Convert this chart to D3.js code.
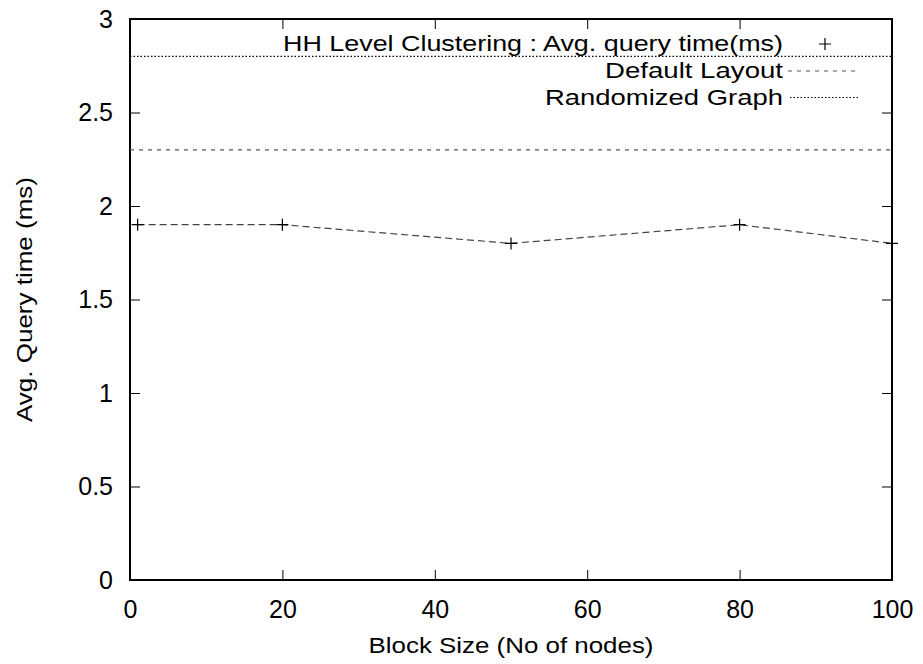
<!DOCTYPE html>
<html>
<head>
<meta charset="utf-8">
<script src="https://cdn.jsdelivr.net/npm/d3@7"></script>
<style>
    body { margin: 0; background: #fff; }
    text { font-family: "Liberation Sans", Arial, sans-serif; fill: #000; }
</style>
</head>
<body>
<div id="chart"></div>
<script>
// data
const blockSizes = [1, 20, 50, 80, 100];
const hhQueryTime = [1.9, 1.9, 1.8, 1.9, 1.8];
const defaultLayout = 2.3;
const randomizedGraph = 2.8;
const xTicks = [0, 20, 40, 60, 80, 100];
const yTicks = [0, 0.5, 1, 1.5, 2, 2.5, 3];
const legendLabels = ['HH Level Clustering : Avg. query time(ms)', 'Default Layout', 'Randomized Graph'];

const width = 923,
    height = 664,
    margins = { left: 130, top: 19, right: 31, bottom: 84 };

const svg = d3.select('#chart').append('svg')
    .attr('width', width)
    .attr('height', height);

const w = width - margins.left - margins.right,
    h = height - margins.top - margins.bottom;

const x = d3.scaleLinear().domain([0, 100]).range([margins.left, margins.left + w]);
const y = d3.scaleLinear().domain([0, 3]).range([margins.top + h, margins.top]);

const tickLen = 10,
    tickFont = 25,
    labelFont = 22;

// Axises (gnuplot style, ticks inward and mirrored)
const axisB = d3.axisBottom(x).tickValues(xTicks).tickSizeInner(-tickLen).tickSizeOuter(0).tickPadding(20);
const axisT = d3.axisTop(x).tickValues(xTicks).tickSizeInner(-tickLen).tickSizeOuter(0).tickFormat('');
const axisL = d3.axisLeft(y).tickValues(yTicks).tickSizeInner(-tickLen).tickSizeOuter(0).tickPadding(17).tickFormat(d3.format('~g'));
const axisR = d3.axisRight(y).tickValues(yTicks).tickSizeInner(-tickLen).tickSizeOuter(0).tickFormat('');

function styleAxis(g) {
    g.select('.domain').remove();
    g.selectAll('line').attr('stroke', '#000').attr('stroke-width', 1);
    g.selectAll('text')
        .attr('font-size', tickFont)
        .attr('font-family', '"Liberation Sans", Arial, sans-serif')
        .attr('fill', '#000');
}

svg.append('g').attr('transform', 'translate(0,' + (margins.top + h) + ')').call(axisB).call(styleAxis);
svg.append('g').attr('transform', 'translate(0,' + margins.top + ')').call(axisT).call(styleAxis);
svg.append('g').attr('transform', 'translate(' + margins.left + ',0)').call(axisL).call(styleAxis);
svg.append('g').attr('transform', 'translate(' + (margins.left + w) + ',0)').call(axisR).call(styleAxis);

// border
svg.append('rect')
    .attr('x', margins.left)
    .attr('y', margins.top)
    .attr('width', w)
    .attr('height', h)
    .attr('fill', 'none')
    .attr('stroke', '#000')
    .attr('stroke-width', 2);

// horizontal reference lines
svg.append('line')
    .attr('x1', x(0)).attr('x2', x(100))
    .attr('y1', y(defaultLayout)).attr('y2', y(defaultLayout))
    .attr('stroke', '#555').attr('stroke-width', 1.2)
    .attr('stroke-dasharray', '4,5');

svg.append('line')
    .attr('x1', x(0)).attr('x2', x(100))
    .attr('y1', y(randomizedGraph)).attr('y2', y(randomizedGraph))
    .attr('stroke', '#000').attr('stroke-width', 1.2)
    .attr('stroke-dasharray', '1.5,2');

// data line
const pts = blockSizes.map((d, i) => [d, hhQueryTime[i]]);
svg.append('path')
    .datum(pts)
    .attr('fill', 'none')
    .attr('stroke', '#444')
    .attr('stroke-width', 1.2)
    .attr('stroke-dasharray', '7,4')
    .attr('d', d3.line().x(d => x(d[0])).y(d => y(d[1])));

function plus(g, cx, cy) {
    g.append('path')
        .attr('d', 'M' + (cx - 6) + ',' + cy + 'H' + (cx + 6) + 'M' + cx + ',' + (cy - 6) + 'V' + (cy + 6))
        .attr('stroke', '#000')
        .attr('stroke-width', 1.2);
}

pts.forEach(d => plus(svg, x(d[0]), y(d[1])));

// legend (text in the reference is wider than Liberation Sans, so stretch it)
const legendX = 783,
    rows = [44, 71, 97.5],
    legendWidths = [500, 178, 238];

legendLabels.forEach((t, i) => {
    svg.append('text')
        .attr('x', legendX)
        .attr('y', rows[i] + 7)
        .attr('font-size', labelFont)
        .attr('text-anchor', 'end')
        .attr('textLength', legendWidths[i])
        .attr('lengthAdjust', 'spacingAndGlyphs')
        .text(t);
});

plus(svg, 825, rows[0]);

svg.append('line')
    .attr('x1', 788).attr('x2', 856)
    .attr('y1', rows[1]).attr('y2', rows[1])
    .attr('stroke', '#555').attr('stroke-width', 1.2)
    .attr('stroke-dasharray', '4,5');

svg.append('line')
    .attr('x1', 790).attr('x2', 858)
    .attr('y1', rows[2]).attr('y2', rows[2])
    .attr('stroke', '#000').attr('stroke-width', 1.2)
    .attr('stroke-dasharray', '1.5,2');

// axis labels
svg.append('text')
    .attr('x', margins.left + w / 2)
    .attr('y', 653)
    .attr('font-size', labelFont)
    .attr('text-anchor', 'middle')
    .attr('textLength', 285)
    .attr('lengthAdjust', 'spacingAndGlyphs')
    .text('Block Size (No of nodes)');

svg.append('text')
    .attr('transform', 'translate(32,' + (margins.top + h / 2) + ') rotate(-90)')
    .attr('font-size', labelFont)
    .attr('text-anchor', 'middle')
    .attr('textLength', 245)
    .attr('lengthAdjust', 'spacingAndGlyphs')
    .text('Avg. Query time (ms)');
</script>
</body>
</html>
